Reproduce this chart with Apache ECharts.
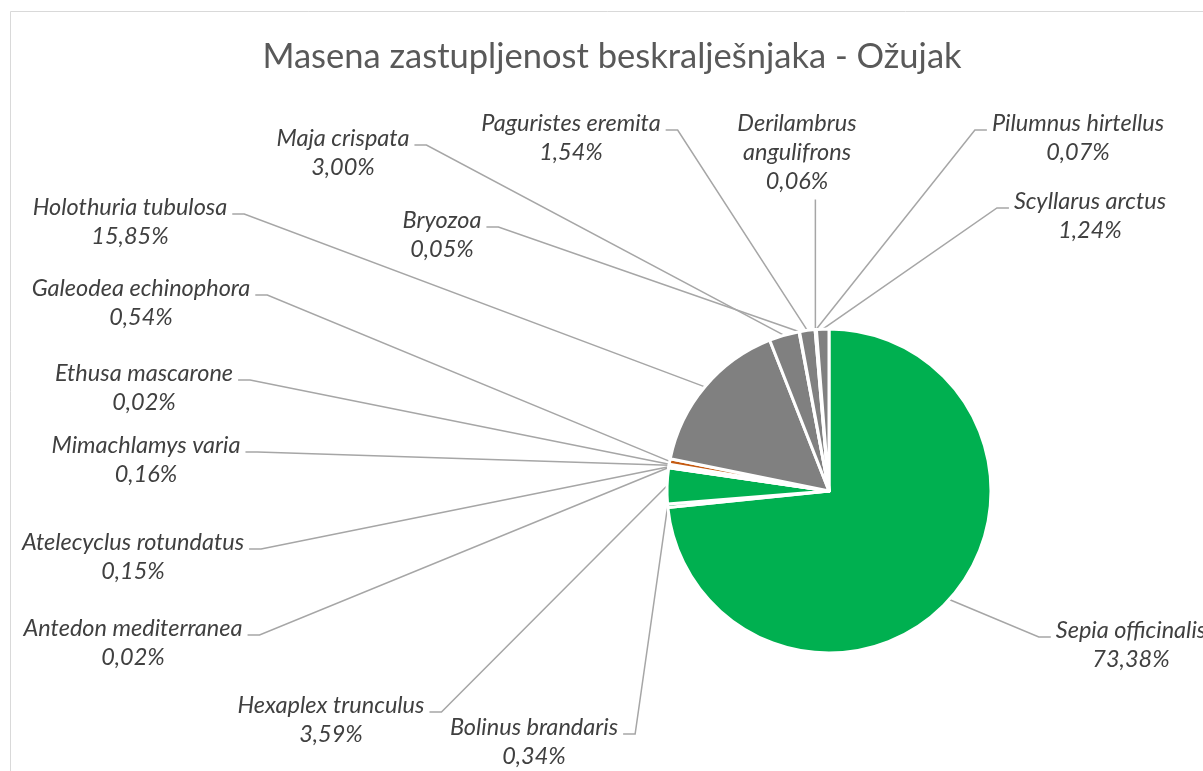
<!DOCTYPE html>
<html>
<head>
<meta charset="utf-8">
<script src="https://cdn.jsdelivr.net/npm/echarts@6/dist/echarts.min.js"></script>
<style>
  html, body { margin: 0; padding: 0; background: #fff; }
  #chart { width: 1203px; height: 771px; }
</style>
</head>
<body>
<div id="chart"></div>
<script>
// data (percent of mass), clockwise from 12 o'clock
const names = [
  'Sepia officinalis', 'Bolinus brandaris', 'Hexaplex trunculus', 'Antedon mediterranea',
  'Atelecyclus rotundatus', 'Mimachlamys varia', 'Ethusa mascarone', 'Galeodea echinophora',
  'Holothuria tubulosa', 'Maja crispata', 'Bryozoa', 'Paguristes eremita',
  'Derilambrus angulifrons', 'Pilumnus hirtellus', 'Scyllarus arctus'
]
const values = [73.38, 0.34, 3.59, 0.02, 0.15, 0.16, 0.02, 0.54, 15.85, 3.00, 0.05, 1.54, 0.06, 0.07, 1.24]
const colors = [
  '#00b050', '#00b050', '#00b050', '#c55a11',
  '#c55a11', '#c55a11', '#c55a11', '#c55a11',
  '#808080', '#808080', '#808080', '#808080',
  '#808080', '#808080', '#808080'
]
const titleText = 'Masena zastupljenost beskralješnjaka - Ožujak'

// label placement: [center x, first line center y, side of leader tick, wrap name]
const labelPos = [
  [1131, 630, 'l', false],
  [534, 727, 'r', false],
  [331, 705, 'r', false],
  [133, 628, 'r', false],
  [133, 542, 'r', false],
  [146, 445, 'r', false],
  [144, 373, 'r', false],
  [141, 288, 'r', false],
  [130, 207, 'r', false],
  [343, 138, 'r', false],
  [442, 220, 'r', false],
  [571, 123, 'r', false],
  [797, 123, 'b', true],
  [1078, 123, 'l', false],
  [1090, 201, 'l', false]
]

const LINE_H = 29
const fmtPct = v => v.toFixed(2).replace('.', ',') + '%'

const chart = echarts.init(document.getElementById('chart'))

const option = {
  animation: false,
  backgroundColor: '#fff',
  graphic: [{
    type: 'rect',
    silent: true,
    shape: { x: 10.5, y: 11.5, width: 1400, height: 1000 },
    style: { fill: 'none', stroke: '#d9d9d9', lineWidth: 1 }
  }, {
    type: 'text',
    silent: true,
    x: 612,
    y: 57,
    style: {
      text: titleText,
      align: 'center',
      verticalAlign: 'middle',
      font: 'normal 34.5px Lato',
      fill: '#595959'
    }
  }],
  series: [{
    type: 'pie',
    center: [829, 491],
    radius: 162,
    startAngle: 90,
    clockwise: true,
    avoidLabelOverlap: false,
    emphasis: { disabled: true },
    itemStyle: { borderColor: '#fff', borderWidth: 3 },
    label: {
      show: true,
      position: 'outside',
      fontFamily: 'Lato',
      fontStyle: 'italic',
      fontSize: 23.5,
      lineHeight: LINE_H,
      color: '#404040',
      align: 'center',
      formatter: p => {
        const nm = labelPos[p.dataIndex][3] ? p.name.replace(' ', '\n') : p.name
        return nm + '\n' + fmtPct(p.value)
      }
    },
    labelLine: {
      show: true,
      smooth: false,
      lineStyle: { color: '#a6a6a6', width: 1.5 }
    },
    labelLayout: p => {
      const pos = labelPos[p.dataIndex]
      const w = p.labelRect.width
      const h = p.labelRect.height
      const top = pos[1] - LINE_H / 2
      const tickY = pos[1] + 7
      const start = p.labelLinePoints[0]
      let pts
      if (pos[2] === 'r') {
        const a = pos[0] + w / 2 + 5
        pts = [start, [a + 12, tickY], [a, tickY]]
      } else if (pos[2] === 'l') {
        const a = pos[0] - w / 2 - 5
        pts = [start, [a - 12, tickY], [a, tickY]]
      } else {
        const b = top + h + 4
        pts = [start, [start[0], b], [start[0], b]]
      }
      return { x: pos[0], y: top, align: 'center', verticalAlign: 'top', labelLinePoints: pts }
    },
    data: names.map((n, i) => ({
      name: n,
      value: values[i],
      itemStyle: { color: colors[i] }
    }))
  }]
}

chart.setOption(option)
</script>
</body>
</html>
